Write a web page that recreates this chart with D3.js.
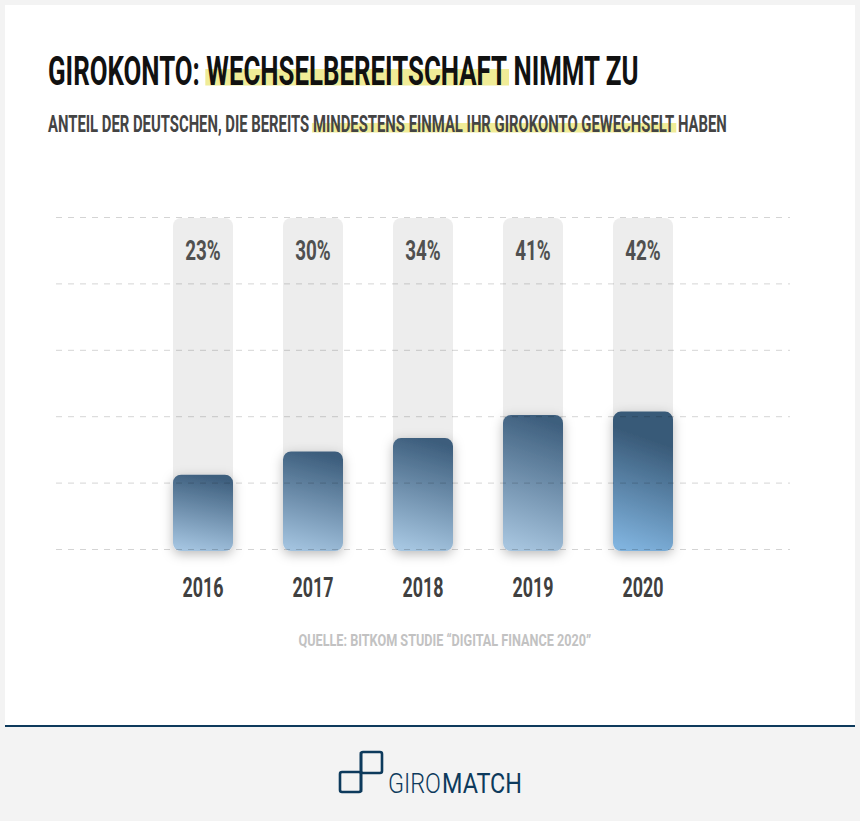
<!DOCTYPE html>
<html><head><meta charset="utf-8">
<script src="https://cdn.jsdelivr.net/npm/d3@7"></script>
<style>body{margin:0;background:#f3f3f3}svg{display:block}</style>
</head><body>
<svg id="c" width="860" height="821"></svg>
<script>
// ---- data ----
const years = ["2016", "2017", "2018", "2019", "2020"];
const shares = [23, 30, 34, 41, 42];
const gridTicks = [0, 20, 40, 60, 80, 100];
const titleParts = ["GIROKONTO: ", "WECHSELBEREITSCHAFT", " NIMMT ZU"];
const titleHighlight = [false, true, false];
const subtitleParts = ["ANTEIL DER DEUTSCHEN, DIE BEREITS ", "MINDESTENS EINMAL IHR GIROKONTO GEWECHSELT", " HABEN"];
const subtitleHighlight = [false, true, false];
const sourceText = "QUELLE: BITKOM STUDIE \u201CDIGITAL FINANCE 2020\u201D";
const logoParts = ["GIRO", "MATCH"];

// ---- styles ----
const barTop = ["#3d5e7d", "#3c5d7c", "#3c5d7c", "#3d5e7d", "#395a78"];
const barBottom = ["#a4c4e0", "#a2c2de", "#a6c6e1", "#a6c4de", "#80b3de"];
const navy = "#0d3a5c";
const FONT = "Roboto, 'Noto Sans', sans-serif";

const svg = d3.select("#c");
const defs = svg.append("defs");

// background
svg.append("rect").attr("width", 860).attr("height", 821).attr("fill", "#f3f3f3");
svg.append("rect").attr("x", 5).attr("y", 5).attr("width", 850).attr("height", 720).attr("fill", "#fff");
svg.append("rect").attr("x", 5).attr("y", 725).attr("width", 850).attr("height", 2).attr("fill", navy);

// helper: draw parts of text, compressed horizontally to target width, with highlights
function fitText(parent, parts, hls, opt) {
  const g = parent.append("g");
  const hlG = g.append("g");
  const t = g.append("text")
    .attr("font-family", FONT).attr("font-weight", opt.weight || 700)
    .attr("font-size", opt.size).attr("fill", opt.color)
    .attr("text-anchor", "start");
  parts.forEach(p => t.append("tspan").text(p));
  const w = t.node().getComputedTextLength();
  const sx = opt.width / w;
  const x0 = opt.anchor === "middle" ? opt.x - opt.width / 2 : opt.x;
  g.attr("transform", `translate(${x0},${opt.y}) scale(${sx},1)`);
  if (hls) {
    let idx = 0;
    parts.forEach((p, i) => {
      if (hls[i]) {
        const off = idx === 0 ? 0 : t.node().getSubStringLength(0, idx);
        const len = t.node().getSubStringLength(idx, p.length);
        hlG.append("rect").attr("x", off - 1 / sx).attr("y", opt.hlTop)
          .attr("width", len + 3 / sx).attr("height", opt.hlH).attr("fill", "#f0ec97");
      }
      idx += p.length;
    });
  }
  return sx;
}

fitText(svg, titleParts, titleHighlight, {x: 48, y: 85, size: 40, color: "#111", width: 590, hlTop: -16, hlH: 16.5});
fitText(svg, subtitleParts, subtitleHighlight, {x: 48, y: 132, size: 24, color: "#444", width: 679, hlTop: -9, hlH: 9.5});
fitText(svg, [sourceText], null, {x: 445, y: 645.5, size: 17, color: "#c2c2c2", width: 293, anchor: "middle"});

// ---- scales ----
const x = d3.scaleBand().domain(years).range([148, 698]).paddingInner(50 / 110).paddingOuter(25 / 110);
const y = d3.scaleLinear().domain([0, 100]).range([551, 219]);

// shadow filter
const f = defs.append("filter").attr("id", "sh").attr("x", "-50%").attr("y", "-30%").attr("width", "200%").attr("height", "160%");
f.append("feDropShadow").attr("dx", 0).attr("dy", 3).attr("stdDeviation", 6).attr("flood-color", "#000").attr("flood-opacity", 0.28);

years.forEach((yr, i) => {
  const lg = defs.append("linearGradient").attr("id", "g" + i)
    .attr("x1", 0.5).attr("y1", 0).attr("x2", 0.35).attr("y2", 1);
  lg.append("stop").attr("offset", 0).attr("stop-color", barTop[i]);
  if (i === 4) lg.append("stop").attr("offset", 0.18).attr("stop-color", barTop[i]);
  lg.append("stop").attr("offset", 1).attr("stop-color", barBottom[i]);
});

// tracks
svg.append("g").selectAll("rect").data(years).join("rect")
  .attr("x", d => x(d)).attr("y", y(100) - 1)
  .attr("width", x.bandwidth()).attr("height", y(0) - y(100) - 10)
  .attr("rx", 8).attr("fill", "#ededed");

// bars
svg.append("g").selectAll("rect").data(shares).join("rect")
  .attr("x", (d, i) => x(years[i])).attr("y", d => y(d))
  .attr("width", x.bandwidth()).attr("height", d => y(0) - y(d))
  .attr("rx", 8).attr("fill", (d, i) => `url(#g${i})`).attr("filter", "url(#sh)");

// gridlines
svg.append("g").selectAll("line").data(gridTicks).join("line")
  .attr("x1", 56).attr("x2", 790).attr("y1", d => y(d) - 1.5).attr("y2", d => y(d) - 1.5)
  .attr("stroke", "rgba(0,0,0,0.17)").attr("stroke-width", 1).attr("stroke-dasharray", "6,6");

// value labels & year labels
shares.forEach((v, i) => {
  const cx = x(years[i]) + x.bandwidth() / 2;
  fitText(svg, [v + "%"], null, {x: cx, y: 259.5, size: 27, color: "#505050", width: 35.5, anchor: "middle"});
  fitText(svg, [years[i]], null, {x: cx, y: 597, size: 27, color: "#404040", width: 41, anchor: "middle"});
});

// ---- logo ----
const logo = svg.append("g").attr("fill", "none").attr("stroke", navy).attr("stroke-width", 2.6).attr("stroke-linejoin", "round");
logo.append("rect").attr("x", 361).attr("y", 752).attr("width", 21).attr("height", 21).attr("rx", 2);
logo.append("rect").attr("x", 340).attr("y", 772).attr("width", 21).attr("height", 20).attr("rx", 2);
logo.append("line").attr("x1", 361).attr("x2", 361).attr("y1", 752).attr("y2", 792);

fitText(svg, [logoParts[0]], null, {x: 388, y: 793, size: 28, color: navy, width: 53, weight: 300});
fitText(svg, [logoParts[1]], null, {x: 442, y: 793, size: 28, color: navy, width: 80, weight: 400});
</script>
</body></html>
